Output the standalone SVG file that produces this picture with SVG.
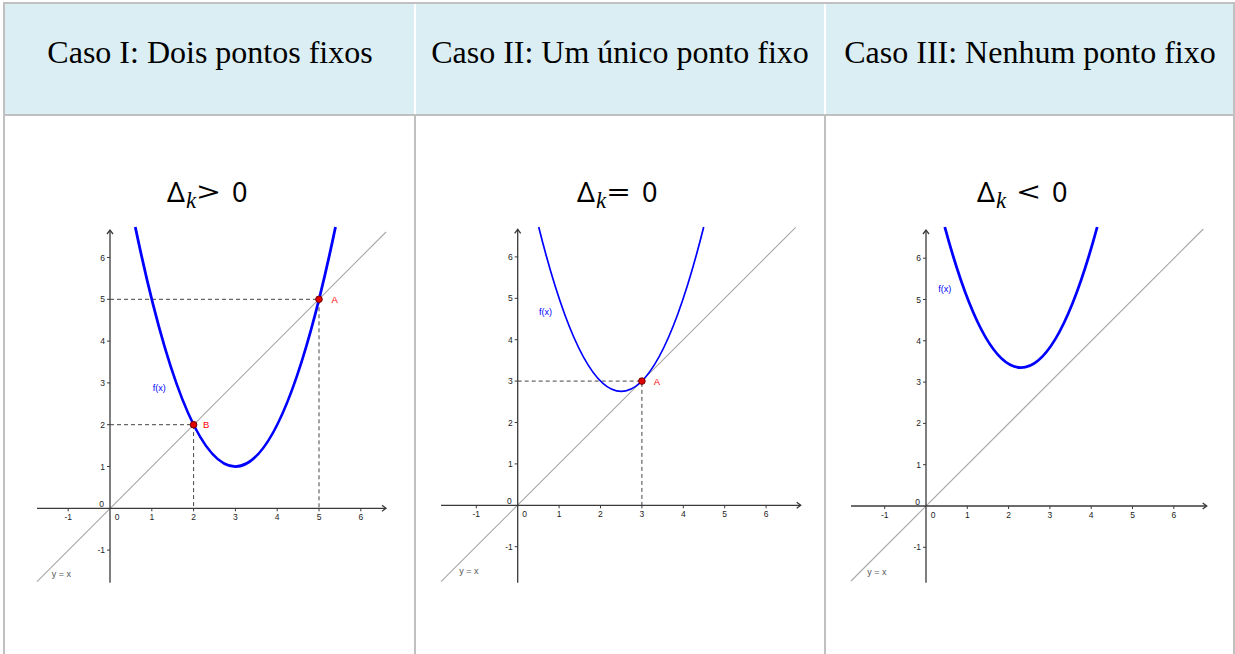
<svg xmlns="http://www.w3.org/2000/svg" width="1235" height="654" viewBox="0 0 1235 654">
<style>
.hdr{font-family:"Liberation Serif","Times New Roman",serif;font-size:32px;fill:#000;text-anchor:middle}
.dl{font-family:"Noto Sans","DejaVu Sans",sans-serif;font-size:27px;fill:#000}
.dd{font-family:"Noto Sans","DejaVu Sans",sans-serif;font-size:28px;fill:#000}
.dk{font-family:"Liberation Serif",serif;font-style:italic;font-size:23px;fill:#000}
.ax{stroke:#3a3a3a;stroke-width:1.3;fill:none}
.tk{stroke:#3a3a3a;stroke-width:1}
.yx{stroke:#a8a8a8;stroke-width:1.1;fill:none}
.ds{stroke:#444;stroke-width:1;stroke-dasharray:4 3;fill:none}
.tl{font-family:"Liberation Sans",Arial,sans-serif;font-size:8.5px;fill:#222}
.tlx{text-anchor:middle}
.tly{text-anchor:end}
.fl{font-family:"Liberation Sans",Arial,sans-serif;font-size:9px;fill:#0000ff}
.yl{font-family:"Liberation Sans",Arial,sans-serif;font-size:9px;fill:#555}
.pl{font-family:"Liberation Sans",Arial,sans-serif;font-size:9.5px;fill:#ff0000}
.pt{fill:#e00000;stroke:#700000;stroke-width:1}
.cv{stroke:#0000ff;fill:none;stroke-width:2.8}
</style>
<g id="table">
<rect x="4" y="3" width="1230" height="112" fill="#daeef3"/>
<line x1="415" y1="3" x2="415" y2="115" stroke="#ffffff" stroke-width="2"/>
<line x1="825" y1="3" x2="825" y2="115" stroke="#ffffff" stroke-width="2"/>
<line x1="3" y1="3" x2="1235" y2="3" stroke="#c0c0c0" stroke-width="2"/>
<line x1="4" y1="2" x2="4" y2="654" stroke="#c0c0c0" stroke-width="2"/>
<line x1="1234" y1="2" x2="1234" y2="654" stroke="#c0c0c0" stroke-width="2"/>
<line x1="3" y1="115" x2="1235" y2="115" stroke="#c0c0c0" stroke-width="2"/>
<line x1="415" y1="116" x2="415" y2="654" stroke="#c0c0c0" stroke-width="2"/>
<line x1="825" y1="116" x2="825" y2="654" stroke="#c0c0c0" stroke-width="2"/>
</g>
<g id="header1"><text class="hdr" x="210" y="63">Caso I: Dois pontos fixos</text></g>
<g id="header2"><text class="hdr" x="620" y="63">Caso II: Um único ponto fixo</text></g>
<g id="header3"><text class="hdr" x="1030" y="63">Caso III: Nenhum ponto fixo</text></g>

<g id="delta1">
<text class="dd" x="167" y="202">Δ</text><text class="dk" x="186" y="208">k</text>
<text class="dl" transform="translate(197,202) scale(1.5,1)">&gt;</text>
<text class="dl" x="232" y="202">0</text>
</g>
<g id="delta2">
<text class="dd" x="577" y="202">Δ</text><text class="dk" x="596" y="208">k</text>
<text class="dl" transform="translate(607,202) scale(1.5,1)">=</text>
<text class="dl" x="642" y="202">0</text>
</g>
<g id="delta3">
<text class="dd" x="977" y="202">Δ</text><text class="dk" x="996" y="208">k</text>
<text class="dl" transform="translate(1017,202) scale(1.5,1)">&lt;</text>
<text class="dl" x="1052" y="202">0</text>
</g>

<g id="plot1" transform="translate(110,508.3)">
<line class="yx" x1="-73" y1="73.4" x2="276" y2="-276.3"/>
<path class="ds" d="M0,-209H209V0M0,-83.6H83.6V0"/>
<line class="ax" x1="-73" y1="0" x2="276" y2="0"/>
<polyline class="ax" points="272,-3 276,0 272,3"/>
<line class="ax" x1="0" y1="74.4" x2="0" y2="-278.3"/>
<polyline class="ax" points="-3,-274.3 0,-278.3 3,-274.3"/>
<path class="tk" d="M-41.8,0v3M41.8,0v3M83.6,0v3M125.4,0v3M167.2,0v3M209,0v3M250.8,0v3M-3,41.8h3M-3,-41.8h3M-3,-83.6h3M-3,-125.4h3M-3,-167.2h3M-3,-209h3M-3,-250.8h3"/>
<g class="tl tlx">
<text x="-41.8" y="12">-1</text><text x="7" y="12">0</text><text x="41.8" y="12">1</text><text x="83.6" y="12">2</text><text x="125.4" y="12">3</text><text x="167.2" y="12">4</text><text x="209" y="12">5</text><text x="250.8" y="12">6</text>
</g>
<g class="tl tly">
<text x="-6" y="-1">0</text><text x="-5" y="44.8">-1</text><text x="-5" y="-38.8">1</text><text x="-5" y="-80.6">2</text><text x="-5" y="-122.4">3</text><text x="-5" y="-164.2">4</text><text x="-5" y="-206">5</text><text x="-5" y="-247.8">6</text>
</g>
<path class="cv" d="M25.3,-281.3Q125.4,197.8 225.5,-281.3"/>
<circle class="pt" cx="209" cy="-209" r="3.3"/>
<circle class="pt" cx="83.6" cy="-83.6" r="3.3"/>
<text class="pl" x="221.5" y="-205">A</text>
<text class="pl" x="93" y="-80.5">B</text>
<text class="fl" x="42.7" y="-117">f(x)</text>
<text class="yl" x="-58.3" y="68.7">y = x</text>
</g>

<g id="plot2" transform="translate(517.7,505.3)">
<line class="yx" x1="-76.7" y1="76.4" x2="278" y2="-278"/>
<path class="ds" d="M0,-124.2H124.2V0"/>
<line class="ax" x1="-76.7" y1="0" x2="283" y2="0"/>
<polyline class="ax" points="279,-3 283,0 279,3"/>
<line class="ax" x1="0" y1="77.4" x2="0" y2="-276"/>
<polyline class="ax" points="-3,-272 0,-276 3,-272"/>
<path class="tk" d="M-41.4,0v3M41.4,0v3M82.8,0v3M124.2,0v3M165.6,0v3M207,0v3M248.4,0v3M-3,41.4h3M-3,-41.4h3M-3,-82.8h3M-3,-124.2h3M-3,-165.6h3M-3,-207h3M-3,-248.4h3"/>
<g class="tl tlx">
<text x="-41.4" y="12">-1</text><text x="7" y="12">0</text><text x="41.4" y="12">1</text><text x="82.8" y="12">2</text><text x="124.2" y="12">3</text><text x="165.6" y="12">4</text><text x="207" y="12">5</text><text x="248.4" y="12">6</text>
</g>
<g class="tl tly">
<text x="-6" y="-1">0</text><text x="-5" y="44.4">-1</text><text x="-5" y="-38.4">1</text><text x="-5" y="-79.8">2</text><text x="-5" y="-121.2">3</text><text x="-5" y="-162.6">4</text><text x="-5" y="-204">5</text><text x="-5" y="-245.4">6</text>
</g>
<path class="cv" style="stroke-width:1.7" d="M21,-278.3Q103.5,50.6 186,-278.3"/>
<circle class="pt" cx="124.2" cy="-124.2" r="3.3"/>
<text class="pl" x="136" y="-120.3">A</text>
<text class="fl" x="21.3" y="-190.5">f(x)</text>
<text class="yl" x="-58.4" y="68.7">y = x</text>
</g>

<g id="plot3" transform="translate(926,506)">
<line class="yx" x1="-75" y1="75" x2="277.3" y2="-277"/>
<line class="ax" x1="-75" y1="0" x2="280.7" y2="0"/>
<polyline class="ax" points="276.7,-3 280.7,0 276.7,3"/>
<line class="ax" x1="0" y1="76.7" x2="0" y2="-276"/>
<polyline class="ax" points="-3,-272 0,-276 3,-272"/>
<path class="tk" d="M-41.3,0v3M41.3,0v3M82.6,0v3M123.9,0v3M165.2,0v3M206.5,0v3M247.8,0v3M-3,41.3h3M-3,-41.3h3M-3,-82.6h3M-3,-123.9h3M-3,-165.2h3M-3,-206.5h3M-3,-247.8h3"/>
<g class="tl tlx">
<text x="-41.3" y="12">-1</text><text x="7" y="12">0</text><text x="41.3" y="12">1</text><text x="82.6" y="12">2</text><text x="123.9" y="12">3</text><text x="165.2" y="12">4</text><text x="206.5" y="12">5</text><text x="247.8" y="12">6</text>
</g>
<g class="tl tly">
<text x="-6" y="-1">0</text><text x="-5" y="44.3">-1</text><text x="-5" y="-38.3">1</text><text x="-5" y="-79.6">2</text><text x="-5" y="-120.9">3</text><text x="-5" y="-162.2">4</text><text x="-5" y="-203.5">5</text><text x="-5" y="-244.8">6</text>
</g>
<path class="cv" d="M18.8,-279Q95,2.3 171.2,-279"/>
<text class="fl" x="12.3" y="-214">f(x)</text>
<text class="yl" x="-58.7" y="68.5">y = x</text>
</g>
</svg>
